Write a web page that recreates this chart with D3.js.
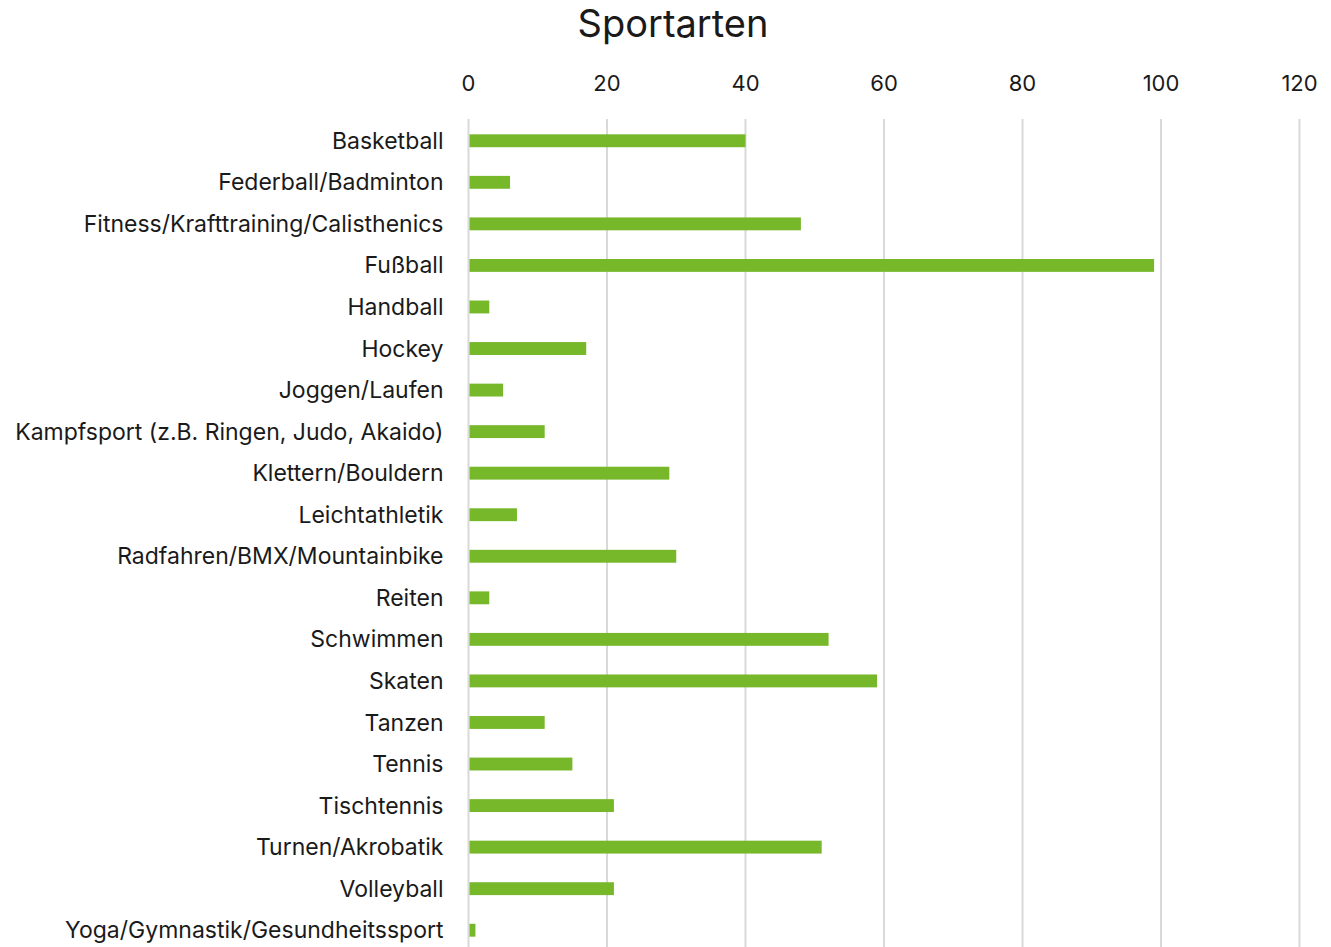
<!DOCTYPE html>
<html>
<head>
<meta charset="utf-8">
<script src="https://cdn.jsdelivr.net/npm/d3@7"></script>
<style>
  body { margin: 0; background: #fff; }
  svg text { font-family: Inter, "Noto Sans", sans-serif; fill: #1a1a1a; }
</style>
</head>
<body>
<div id="chart"></div>
<script>
const categories = [
  "Basketball", "Federball/Badminton", "Fitness/Krafttraining/Calisthenics", "Fußball",
  "Handball", "Hockey", "Joggen/Laufen", "Kampfsport (z.B. Ringen, Judo, Akaido)",
  "Klettern/Bouldern", "Leichtathletik", "Radfahren/BMX/Mountainbike", "Reiten",
  "Schwimmen", "Skaten", "Tanzen", "Tennis", "Tischtennis", "Turnen/Akrobatik",
  "Volleyball", "Yoga/Gymnastik/Gesundheitssport"
];
const values = [40, 6, 48, 99, 3, 17, 5, 11, 29, 7, 30, 3, 52, 59, 11, 15, 21, 51, 21, 1];
const tickValues = [0, 20, 40, 60, 80, 100, 120];

const width = 1331, height = 947;
const plotLeft = 468.5, plotRight = 1299.5, plotTop = 119, plotBottom = 950;

const svg = d3.select("#chart").append("svg")
    .attr("width", width)
    .attr("height", height);

let x = d3.scaleLinear().domain([0, 120]).range([plotLeft, plotRight]);
let y = d3.scaleBand().domain(categories).range([plotTop + 1, plotBottom + 1]).paddingInner(0.69).paddingOuter(0.345);

// grid lines
svg.append("g")
    .selectAll("line")
    .data(tickValues)
    .enter()
    .append("line")
    .attr("x1", d => x(d))
    .attr("x2", d => x(d))
    .attr("y1", plotTop)
    .attr("y2", height)
    .attr("stroke", "#d9d9d9")
    .attr("stroke-width", 2);

// tick labels on top
svg.append("g")
    .selectAll("text")
    .data(tickValues)
    .enter()
    .append("text")
    .attr("x", d => x(d))
    .attr("y", 91)
    .attr("text-anchor", "middle")
    .style("font-size", "22px")
    .text(d => d);

// bars
svg.append("g")
    .selectAll("rect")
    .data(values)
    .enter()
    .append("rect")
    .attr("x", x(0) + 1)
    .attr("y", (d, i) => y(categories[i]))
    .attr("width", d => x(d) - x(0) - 1)
    .attr("height", y.bandwidth())
    .attr("fill", "#76b82a");

// category labels
svg.append("g")
    .selectAll("text")
    .data(categories)
    .enter()
    .append("text")
    .attr("x", plotLeft - 25)
    .attr("y", d => y(d) + y.bandwidth() / 2)
    .attr("dy", "0.35em")
    .attr("text-anchor", "end")
    .style("font-size", "23px")
    .text(d => d);

// title
svg.append("text")
    .attr("x", 673)
    .attr("y", 37)
    .attr("text-anchor", "middle")
    .style("font-size", "38px")
    .text("Sportarten");
</script>
</body>
</html>
